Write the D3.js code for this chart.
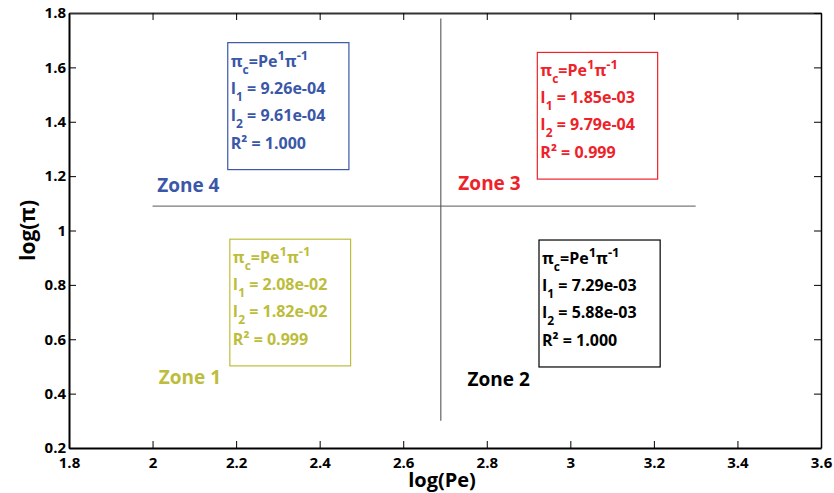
<!DOCTYPE html>
<html>
<head>
<meta charset="utf-8">
<script src="https://cdn.jsdelivr.net/npm/d3@7"></script>
<style>
  html, body { margin: 0; padding: 0; background: #fff; }
  svg { display: block; font-family: "Open Sans", "DejaVu Sans", sans-serif; }
</style>
</head>
<body>
<div id="chart"></div>
<script>
// ---------- data ----------
const xDomain = [1.8, 3.6];
const yDomain = [0.2, 1.8];
const xTicks = [1.8, 2, 2.2, 2.4, 2.6, 2.8, 3, 3.2, 3.4, 3.6];
const yTicks = [0.2, 0.4, 0.6, 0.8, 1, 1.2, 1.4, 1.6, 1.8];
const xTickLabels = ["1.8", "2", "2.2", "2.4", "2.6", "2.8", "3", "3.2", "3.4", "3.6"];
const yTickLabels = ["0.2", "0.4", "0.6", "0.8", "1", "1.2", "1.4", "1.6", "1.8"];

// divider lines (data units)
const hLine = { y: 1.09, x0: 2.0, x1: 3.3 };
const vLine = { x: 2.69, y0: 0.30, y1: 1.78 };

// zones
const zoneNames = ["Zone 1", "Zone 2", "Zone 3", "Zone 4"];
const zoneLabelX = [2.015, 2.754, 2.732, 2.011];
const zoneLabelY = [0.434, 0.428, 1.149, 1.140];
const zoneColors = ["#bdbd3c", "#000000", "#ee2229", "#3b57a8"];

// fitted-result boxes (data units)
const boxX0 = [2.185, 2.925, 2.921, 2.18];
const boxX1 = [2.474, 3.215, 3.209, 2.47];
const boxY0 = [0.502, 0.498, 1.189, 1.224];
const boxY1 = [0.968, 0.965, 1.655, 1.691];
const I1 = ["2.08e-02", "7.29e-03", "1.85e-03", "9.26e-04"];
const I2 = ["1.82e-02", "5.88e-03", "9.79e-04", "9.61e-04"];
const R2 = ["0.999", "1.000", "0.999", "1.000"];

const xTitle = "log(Pe)";
const yTitle = "log(π)";

// ---------- layout ----------
const W = 834, H = 493;
const mLeft = 69, mRight = 821, mTop = 13, mBottom = 448;

const svg = d3.select("#chart").append("svg").attr("width", W).attr("height", H);

const x = d3.scaleLinear().domain(xDomain).range([mLeft, mRight]);
const y = d3.scaleLinear().domain(yDomain).range([mBottom, mTop]);

const fmtX = d => xTickLabels[xTicks.indexOf(d)];
const fmtY = d => yTickLabels[yTicks.indexOf(d)];

// axes
const gx = svg.append("g").attr("transform", `translate(0,${mBottom})`)
  .call(d3.axisBottom(x).tickValues(xTicks).tickFormat(fmtX).tickSizeInner(-7).tickSizeOuter(0).tickPadding(9));
const gy = svg.append("g").attr("transform", `translate(${mLeft},0)`)
  .call(d3.axisLeft(y).tickValues(yTicks).tickFormat(fmtY).tickSizeInner(-7).tickSizeOuter(0).tickPadding(3));
const gt = svg.append("g").attr("transform", `translate(0,${mTop})`)
  .call(d3.axisTop(x).tickValues(xTicks).tickFormat("").tickSizeInner(-7).tickSizeOuter(0));
const gr = svg.append("g").attr("transform", `translate(${mRight},0)`)
  .call(d3.axisRight(y).tickValues(yTicks).tickFormat("").tickSizeInner(-7).tickSizeOuter(0));

[gx, gy].forEach(g => {
  g.selectAll(".domain").attr("stroke", "#000").attr("stroke-width", 2);
  g.selectAll(".tick line").attr("stroke", "#000").attr("stroke-width", 1);
  g.selectAll(".tick text").attr("fill", "#000").attr("font-size", 15).attr("font-weight", 700)
    .attr("font-family", "'Open Sans', sans-serif");
});
gt.selectAll(".domain").attr("stroke", "#333").attr("stroke-width", 2);
gt.selectAll(".tick line").attr("stroke", "#000");
gr.selectAll(".domain").attr("stroke", "#000").attr("stroke-width", 1.5);
gr.selectAll(".tick line").attr("stroke", "#000");

// axis titles
svg.append("text").attr("x", (mLeft + mRight) / 2 - 3).attr("y", 487)
  .attr("text-anchor", "middle").attr("font-size", 20).attr("font-weight", 700).attr("fill", "#000")
  .text(xTitle);
svg.append("text")
  .attr("transform", `translate(35,${(mTop + mBottom) / 2}) rotate(-90)`)
  .attr("text-anchor", "middle").attr("font-size", 21).attr("font-weight", 700).attr("fill", "#000")
  .text(yTitle);

// divider lines
svg.append("line")
  .attr("x1", x(hLine.x0)).attr("x2", x(hLine.x1)).attr("y1", y(hLine.y)).attr("y2", y(hLine.y))
  .attr("stroke", "#7a7a7a").attr("stroke-width", 1.3);
svg.append("line")
  .attr("x1", x(vLine.x)).attr("x2", x(vLine.x)).attr("y1", y(vLine.y0)).attr("y2", y(vLine.y1))
  .attr("stroke", "#555").attr("stroke-width", 1.1);

// zone labels
zoneNames.forEach((name, i) => {
  svg.append("text").attr("x", x(zoneLabelX[i])).attr("y", y(zoneLabelY[i]))
    .attr("font-size", 19).attr("font-weight", 700).attr("fill", zoneColors[i])
    .text(name);
});

// boxes
zoneNames.forEach((name, i) => {
  const c = zoneColors[i];
  const bx = x(boxX0[i]), by = y(boxY1[i]);
  svg.append("rect")
    .attr("x", bx).attr("y", by)
    .attr("width", x(boxX1[i]) - x(boxX0[i])).attr("height", y(boxY0[i]) - y(boxY1[i]))
    .attr("fill", "none").attr("stroke", c).attr("stroke-width", 1.2);

  const g = svg.append("g").attr("fill", c).attr("font-weight", 700).attr("font-size", 16);
  const tx = bx + 3;

  // line 1: π_c = Pe^1 π^-1
  const t1 = g.append("text").attr("x", tx).attr("y", by + 24);
  t1.append("tspan").text("π");
  t1.append("tspan").attr("font-size", 12).attr("dy", 7).text("c");
  t1.append("tspan").attr("dy", -7).text("=Pe");
  t1.append("tspan").attr("font-size", 13).attr("dy", -7).text("1");
  t1.append("tspan").attr("dy", 7).text("π");
  t1.append("tspan").attr("font-size", 13).attr("dy", -7).text("-1");

  // line 2: I_1 = ...
  const t2 = g.append("text").attr("x", tx).attr("y", by + 51);
  t2.append("tspan").text("I");
  t2.append("tspan").attr("font-size", 12).attr("dy", 7).text("1");
  t2.append("tspan").attr("dy", -7).text(" = " + I1[i]);

  // line 3: I_2 = ...
  const t3 = g.append("text").attr("x", tx).attr("y", by + 78);
  t3.append("tspan").text("I");
  t3.append("tspan").attr("font-size", 12).attr("dy", 7).text("2");
  t3.append("tspan").attr("dy", -7).text(" = " + I2[i]);

  // line 4: R² = ...
  g.append("text").attr("x", tx).attr("y", by + 106).text("R² = " + R2[i]);
});
</script>
</body>
</html>
